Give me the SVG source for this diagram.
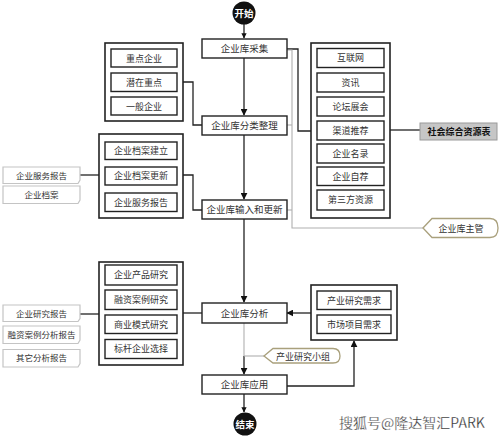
<svg xmlns="http://www.w3.org/2000/svg" width="500" height="437" viewBox="0 0 500 437">
<defs>
<marker id="ah" viewBox="0 0 10 10" refX="9" refY="5" markerWidth="7" markerHeight="7" markerUnits="userSpaceOnUse" orient="auto"><path d="M0,0 L10,5 L0,10 Z" fill="#111"/></marker>
<marker id="ahb" viewBox="0 0 10 10" refX="9" refY="5" markerWidth="4" markerHeight="4" orient="auto"><path d="M0,0 L10,5 L0,10 Z" fill="#111"/></marker>
</defs>
<style>
text{font-family:"Noto Sans CJK SC","Noto Sans CJK JP",sans-serif;fill:#333;text-anchor:middle}
.main rect{fill:#fff;stroke:#222;stroke-width:1.4}
.main text{font-size:9.5px}
.outer{fill:#fff;stroke:#222;stroke-width:1.6}
.inner rect{fill:#fff;stroke:#222;stroke-width:1.4}
.inner text{font-size:9px}
.doc path{fill:#fff;stroke:#c4c4c4;stroke-width:1.2}
.doc text{font-size:8.5px}
.tag path{fill:#fff;stroke:#a9a07c;stroke-width:1.3}
.tag text{font-size:9px}
.ln{fill:none;stroke:#222;stroke-width:1.3}
.gl{fill:none;stroke:#b0b0b0;stroke-width:1.1}
</style>

<g id="connectors">
<!-- main flow -->
<line class="ln" x1="244" y1="24" x2="244" y2="38" stroke-width="2.5" marker-end="url(#ahb)"/>
<line class="ln" x1="244" y1="58" x2="244" y2="115" marker-end="url(#ah)"/>
<line class="ln" x1="244" y1="135" x2="244" y2="199" marker-end="url(#ah)"/>
<line class="ln" x1="244" y1="219" x2="244" y2="302" marker-end="url(#ah)"/>
<line class="gl" x1="244" y1="323" x2="244" y2="356"/>
<line class="ln" x1="244" y1="356" x2="244" y2="374" marker-end="url(#ah)"/>
<line class="ln" x1="244" y1="394" x2="244" y2="412" stroke-width="3" marker-end="url(#ahb)"/>
<!-- left groups -->
<polyline class="ln" points="177,82 193,82 193,125 202,125"/>
<polyline class="ln" points="177,175 193,175 193,210 202,210"/>
<line class="ln" x1="183" y1="313" x2="202" y2="313"/>
<line class="ln" x1="80" y1="175" x2="99" y2="175"/>
<line class="ln" x1="80" y1="314" x2="99" y2="314"/>
<!-- right group 1 -->
<polyline class="ln" points="287,49 298,49 298,131 311,131"/>
<line class="ln" x1="390" y1="130" x2="420" y2="130"/>
<!-- gray manager line -->
<polyline class="gl" points="287,50 292,50 292,228 423,228"/>
<line class="gl" x1="287" y1="125" x2="292" y2="125"/>
<line class="gl" x1="287" y1="210" x2="292" y2="210"/>
<!-- analysis -->
<line class="ln" x1="311" y1="313" x2="287" y2="313" marker-end="url(#ah)"/>
<line class="gl" x1="244" y1="356" x2="264" y2="356"/>
<polyline class="ln" points="287,386 354,386 354,341" marker-end="url(#ah)"/>
</g>

<g id="start">
<circle cx="244" cy="13" r="11.5" fill="#111"/>
<text x="244" y="16.5" style="fill:#fff;font-size:9.5px;font-weight:bold">开始</text>
</g>
<g id="end">
<circle cx="245" cy="424" r="11.5" fill="#111"/>
<text x="245" y="427.5" style="fill:#fff;font-size:9.5px;font-weight:bold">结束</text>
</g>

<g id="n-collect" class="main"><rect x="202" y="39" width="85" height="19"/><text x="244.5" y="52">企业库采集</text></g>
<g id="n-classify" class="main"><rect x="202" y="116" width="85" height="19"/><text x="244.5" y="129">企业库分类整理</text></g>
<g id="n-input" class="main"><rect x="202" y="200" width="85" height="19"/><text x="244.5" y="213">企业库输入和更新</text></g>
<g id="n-analysis" class="main"><rect x="202" y="303" width="85" height="20"/><text x="244.5" y="316.5">企业库分析</text></g>
<g id="n-apply" class="main"><rect x="202" y="375" width="85" height="19"/><text x="244.5" y="388">企业库应用</text></g>

<g id="g-class">
<rect class="outer" x="105" y="43" width="78" height="78"/>
<g class="inner">
<rect x="111" y="49" width="66" height="18"/><text x="144" y="61.5">重点企业</text>
<rect x="111" y="73" width="66" height="18.5"/><text x="144" y="85.5">潜在重点</text>
<rect x="111" y="97" width="66" height="18"/><text x="144" y="109.5">一般企业</text>
</g>
</g>

<g id="g-archive">
<rect class="outer" x="99" y="134" width="84" height="84"/>
<g class="inner">
<rect x="105" y="142" width="72" height="17.5"/><text x="141" y="154">企业档案建立</text>
<rect x="105" y="167" width="72" height="18"/><text x="141" y="179">企业档案更新</text>
<rect x="105" y="193" width="72" height="18.5"/><text x="141" y="205.5">企业服务报告</text>
</g>
</g>

<g id="g-research">
<rect class="outer" x="99" y="262" width="84" height="103"/>
<g class="inner">
<rect x="105" y="265" width="72" height="20"/><text x="141" y="278">企业产品研究</text>
<rect x="105" y="290" width="72" height="19.5"/><text x="141" y="303">融资案例研究</text>
<rect x="105" y="315" width="72" height="18.5"/><text x="141" y="327.5">商业模式研究</text>
<rect x="105" y="339.5" width="72" height="19"/><text x="141" y="352">标杆企业选择</text>
</g>
</g>

<g id="g-sources">
<rect class="outer" x="311" y="43" width="79" height="175"/>
<g class="inner">
<rect x="317" y="48.5" width="67" height="19"/><text x="350.5" y="61">互联网</text>
<rect x="317" y="73" width="67" height="19"/><text x="350.5" y="85.5">资讯</text>
<rect x="317" y="97" width="67" height="19"/><text x="350.5" y="109.5">论坛展会</text>
<rect x="317" y="121" width="67" height="19"/><text x="350.5" y="133.5">渠道推荐</text>
<rect x="317" y="144" width="67" height="19"/><text x="350.5" y="156.5">企业名录</text>
<rect x="317" y="167" width="67" height="18.5"/><text x="350.5" y="179.5">企业自荐</text>
<rect x="317" y="190" width="67" height="20"/><text x="350.5" y="203">第三方资源</text>
</g>
</g>

<g id="g-demand">
<rect class="outer" x="311" y="285" width="86" height="55"/>
<g class="inner">
<rect x="317" y="291" width="74" height="18.5"/><text x="354" y="303.5">产业研究需求</text>
<rect x="317" y="315" width="74" height="18.5"/><text x="354" y="327.5">市场项目需求</text>
</g>
</g>

<g id="n-social">
<rect x="420" y="123" width="77" height="17" fill="#c6c6c6" stroke="#9a9a9a" stroke-width="1"/>
<text x="459" y="135" style="font-size:9px;font-weight:bold;fill:#111">社会综合资源表</text>
</g>

<g id="n-manager" class="tag">
<path d="M423,228 L432,218.5 H490 Q498,218.5 498,228 Q498,237.5 490,237.5 H432 Z"/>
<text x="461" y="231.5">企业库主管</text>
</g>
<g id="n-team" class="tag">
<path d="M264,356 L273,348.5 H333 Q340,348.5 340,356 Q340,363 333,363 H273 Z"/>
<text x="303" y="359.5">产业研究小组</text>
</g>

<g id="d-1" class="doc"><path d="M3,167 H80 V180 L78,183.5 H3 Z"/><text x="41.5" y="178.5">企业服务报告</text></g>
<g id="d-2" class="doc"><path d="M3,186 H80 V200 L78,203.5 H3 Z"/><text x="41.5" y="197.5">企业档案</text></g>
<g id="d-3" class="doc"><path d="M3,305 H80 V318.5 L78,321.5 H3 Z"/><text x="41.5" y="316.5">企业研究报告</text></g>
<g id="d-4" class="doc"><path d="M3,326 H80 V340 L78,343.5 H3 Z"/><text x="41.5" y="337.5">融资案例分析报告</text></g>
<g id="d-5" class="doc"><path d="M3,349.5 H80 V363.5 L78,367 H3 Z"/><text x="41.5" y="361">其它分析报告</text></g>

<text x="412" y="428" style="font-size:14px;fill:#222;stroke:#fff;stroke-width:0.3">搜狐号@隆达智汇PARK</text>
</svg>
